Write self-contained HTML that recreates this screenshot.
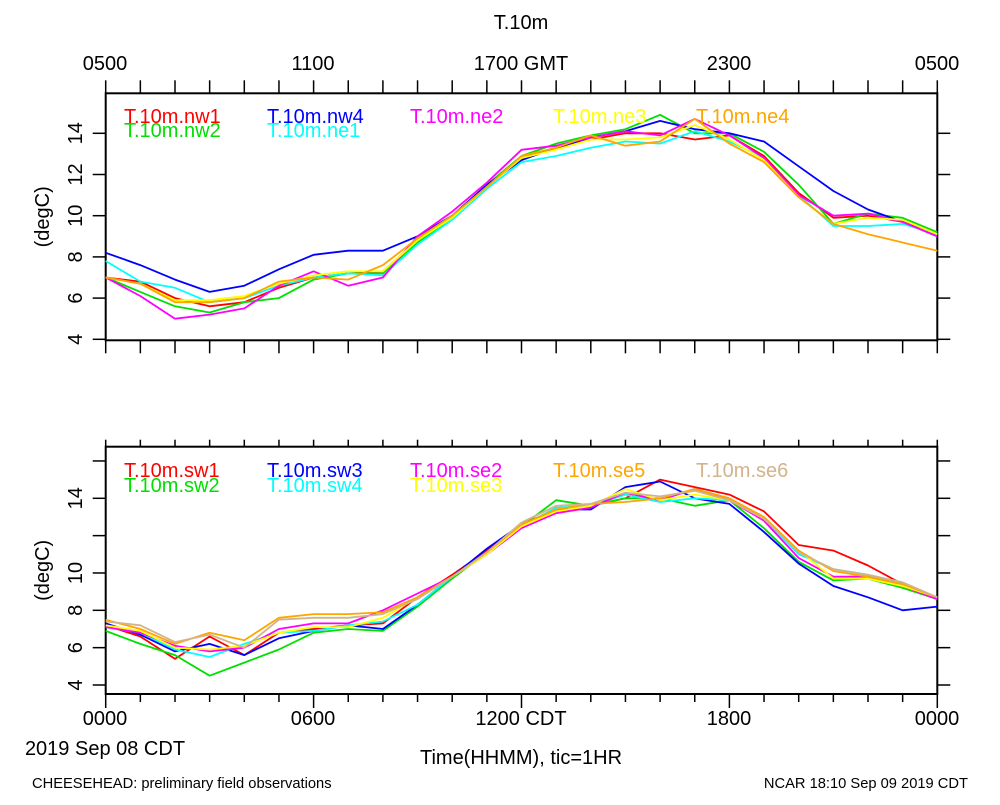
<!DOCTYPE html>
<html><head><meta charset="utf-8"><style>
body{margin:0;background:#fff;}
svg text{font-family:"Liberation Sans",sans-serif;fill:#000;}
</style></head><body>
<svg id="chart" width="1000" height="800" viewBox="0 0 1000 800" xmlns="http://www.w3.org/2000/svg">
<text x="521" y="29" font-size="20" text-anchor="middle">T.10m</text>
<g id="top"></g><g id="bot"></g>
<text x="105" y="725" font-size="20" text-anchor="middle">0000</text>
<text x="313" y="725" font-size="20" text-anchor="middle">0600</text>
<text x="521" y="725" font-size="20" text-anchor="middle">1200 CDT</text>
<text x="729" y="725" font-size="20" text-anchor="middle">1800</text>
<text x="937" y="725" font-size="20" text-anchor="middle">0000</text>
<text x="105" y="755" font-size="20" text-anchor="middle">2019 Sep 08 CDT</text>
<text x="521" y="764" font-size="20" text-anchor="middle">Time(HHMM), tic=1HR</text>
<text x="32" y="788" font-size="14.7">CHEESEHEAD: preliminary field observations</text>
<text x="968" y="788" font-size="14.7" text-anchor="end">NCAR 18:10 Sep 09 2019 CDT</text>
<text x="105" y="70" font-size="20" text-anchor="middle">0500</text>
<text x="313" y="70" font-size="20" text-anchor="middle">1100</text>
<text x="521" y="70" font-size="20" text-anchor="middle">1700 GMT</text>
<text x="729" y="70" font-size="20" text-anchor="middle">2300</text>
<text x="937" y="70" font-size="20" text-anchor="middle">0500</text>
</svg>
<script>
const hours = [0,1,2,3,4,5,6,7,8,9,10,11,12,13,14,15,16,17,18,19,20,21,22,23,24];
const topNames = ["T.10m.nw1","T.10m.nw2","T.10m.nw4","T.10m.ne1","T.10m.ne2","T.10m.ne3","T.10m.ne4"];
const nw1 = [7.0,6.8,6.0,5.6,5.8,6.5,7.0,7.2,7.3,8.8,9.9,11.4,12.8,13.3,13.7,14.0,14.0,13.7,13.9,12.9,11.1,9.9,10.0,9.7,9.1];
const nw2 = [7.0,6.3,5.6,5.3,5.8,6.0,6.9,7.2,7.2,8.7,9.9,11.5,12.9,13.5,13.9,14.2,14.9,14.0,14.0,13.1,11.5,9.6,10.1,9.9,9.2];
const nw4 = [8.2,7.6,6.9,6.3,6.6,7.4,8.1,8.3,8.3,9.0,10.0,11.5,12.7,13.3,13.8,14.1,14.6,14.2,14.0,13.6,12.4,11.2,10.3,9.7,9.0];
const ne1 = [7.8,6.8,6.5,5.8,6.0,6.6,7.0,7.2,7.1,8.6,9.8,11.3,12.6,12.9,13.3,13.6,13.5,14.1,13.6,12.8,11.0,9.5,9.5,9.6,9.1];
const ne2 = [7.0,6.1,5.0,5.2,5.5,6.6,7.3,6.6,7.0,9.0,10.2,11.6,13.2,13.4,13.8,14.1,13.9,14.7,13.9,12.8,11.0,10.0,10.1,9.7,9.0];
const ne3 = [7.0,6.7,5.9,5.9,6.1,6.7,7.1,7.3,7.3,8.8,9.9,11.4,12.8,13.2,13.7,13.7,13.8,14.4,13.7,12.7,10.9,9.6,9.9,9.8,9.1];
const ne4 = [7.0,6.7,5.8,5.8,6.0,6.8,7.0,6.9,7.6,8.9,10.0,11.4,12.9,13.3,13.9,13.4,13.6,14.7,13.5,12.6,10.9,9.6,9.1,8.7,8.3];
const topSeries = [nw1,nw2,nw4,ne1,ne2,ne3,ne4];
const topColors = ["#ff0000","#00e000","#0000ff","#00ffff","#ff00ff","#ffff00","#ffa500"];

const botNames = ["T.10m.sw1","T.10m.sw2","T.10m.sw3","T.10m.sw4","T.10m.se2","T.10m.se3","T.10m.se5","T.10m.se6"];
const sw1 = [7.2,6.6,5.4,6.6,5.6,6.8,7.0,7.2,7.3,8.7,9.9,11.2,12.6,13.3,13.6,14.0,15.0,14.6,14.2,13.3,11.5,11.2,10.4,9.4,8.6];
const sw2 = [6.9,6.2,5.6,4.5,5.2,5.9,6.8,7.0,6.9,8.2,9.7,11.1,12.5,13.9,13.6,14.0,14.0,13.6,13.9,12.4,10.6,9.6,9.7,9.2,8.6];
const sw3 = [7.3,6.7,5.8,6.2,5.6,6.5,6.9,7.2,7.0,8.3,9.8,11.3,12.6,13.4,13.4,14.6,14.9,14.0,13.7,12.2,10.5,9.3,8.7,8.0,8.2];
const sw4 = [7.1,6.8,5.9,5.5,6.2,6.8,6.9,7.2,7.4,8.3,9.8,11.1,12.5,13.5,13.6,14.2,13.8,14.0,13.9,12.9,11.0,10.2,9.9,9.4,8.7];
const se2 = [7.1,6.8,6.1,5.8,6.0,7.0,7.3,7.3,8.0,8.9,9.8,11.0,12.4,13.2,13.5,14.3,13.9,14.5,13.9,12.8,10.8,9.8,9.8,9.3,8.6];
const se3 = [7.2,6.9,6.0,5.9,6.1,6.8,7.1,7.1,7.6,8.7,9.8,11.0,12.5,13.3,13.6,14.5,13.9,14.2,13.9,12.9,11.2,9.7,9.7,9.3,8.7];
const se5 = [7.5,7.0,6.2,6.8,6.4,7.6,7.8,7.8,7.9,8.7,9.8,11.1,12.6,13.4,13.7,13.8,14.0,14.5,14.0,13.0,11.2,10.1,9.8,9.4,8.7];
const se6 = [7.4,7.2,6.3,6.7,6.0,7.5,7.6,7.6,7.8,8.6,9.8,11.1,12.7,13.6,13.7,14.3,14.1,14.4,13.9,12.9,11.1,10.2,9.9,9.5,8.7];
const botSeries = [sw1,sw2,sw3,sw4,se2,se3,se5,se6];
const botColors = ["#ff0000","#00e000","#0000ff","#00ffff","#ff00ff","#ffff00","#ffa500","#d2b48c"];

const yTicks = [4,6,8,10,12,14,16];
const topYLabels = ["4","6","8","10","12","14"];
const botYLabels = ["4","6","8","10","14"];

const NS="http://www.w3.org/2000/svg";
const X0=105.7,X1=937.3;
function xScale(h){return X0+(X1-X0)*h/24;}
function mk(parent,tag,attrs){const e=document.createElementNS(NS,tag);for(const k in attrs)e.setAttribute(k,attrs[k]);parent.appendChild(e);return e;}

function panel(g,p,series,colors,names,yLabels,prefix){
  const yScale=v=>p.y4-(v-4)*p.k;
  const frame=mk(g,'rect',{x:X0,y:p.top,width:X1-X0,height:p.bot-p.top,fill:'none',stroke:'#000','stroke-width':2});
  
  
  for(let h=0;h<=24;h++){
    const x=xScale(h);
    const t1=mk(g,'line',{x1:x,x2:x,y1:p.top,y2:p.top-p.tt,stroke:'#000','stroke-width':1.5});
    
    
    const len=(p.major&&h%6==0)?14:p.bt;
    const t2=mk(g,'line',{x1:x,x2:x,y1:p.bot,y2:p.bot+len,stroke:'#000','stroke-width':1.5});
    
    
  }
  yTicks.forEach(v=>{
    const y=yScale(v); if(y<p.top-1||y>p.bot+1)return;
    const a=mk(g,'line',{x1:X0-13,x2:X0,y1:y,y2:y,stroke:'#000','stroke-width':1.5});
    
    
    const b=mk(g,'line',{x1:X1,x2:X1+13,y1:y,y2:y,stroke:'#000','stroke-width':1.5});
    
    
  });
  yLabels.forEach(s=>{
    const y=yScale(+s);
    const t=mk(g,'text',{x:0,y:0,'font-size':20,'text-anchor':'middle',transform:`translate(82,${y}) rotate(-90)`});
    t.textContent=s;
    
    
  });
  const yt=mk(g,'text',{x:0,y:0,'font-size':20,'text-anchor':'middle',transform:`translate(49,${(p.top+p.bot)/2}) rotate(-90)`});
  yt.textContent='(degC)';
  
  
  series.forEach((s,i)=>{
    const d=s.map((v,j)=>(j?'L':'M')+xScale(hours[j]).toFixed(1)+','+yScale(v).toFixed(1)).join('');
    const path=mk(g,'path',{d:d,fill:'none',stroke:colors[i],'stroke-width':1.8,'stroke-linejoin':'round'});
    
    
  });
  names.forEach((n,i)=>{
    const row=p.legendRows[i];
    const t=mk(g,'text',{x:p.legendX[i],y:row,'font-size':20,fill:colors[i]});
    t.style.fill=colors[i];
    t.textContent=n;
    
    
  });
}
panel(document.getElementById('top'),
  {top:93.3,bot:340.3,y4:339.3,k:20.6,tt:13,bt:13,major:false,
   legendX:[124,124,267,267,410,553,696],legendRows:[123,137,123,137,123,123,123]},
  topSeries,topColors,topNames,topYLabels,'top');
panel(document.getElementById('bot'),
  {top:446.7,bot:694,y4:685,k:18.67,tt:7,bt:8,major:true,
   legendX:[124,124,267,267,410,410,553,696],legendRows:[477,492,477,492,477,492,477,477]},
  botSeries,botColors,botNames,botYLabels,'bottom');
</script>
</body></html>
